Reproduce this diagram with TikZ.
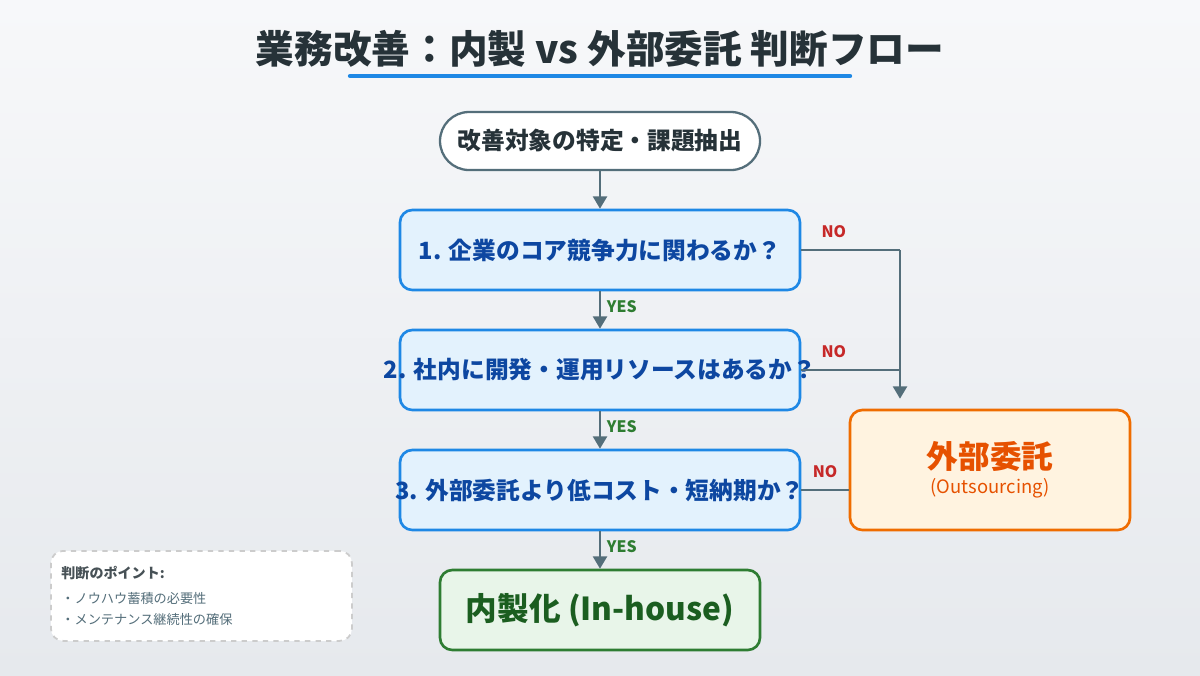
\documentclass[tikz,border=0pt]{standalone}
\usepackage{fontspec}
\setmainfont{Noto Sans CJK JP}
\usetikzlibrary{positioning, arrows.meta}
\definecolor{bgtop}{HTML}{F7F8FA}
\definecolor{bgbot}{HTML}{E6E9ED}
\definecolor{ink}{HTML}{263238}
\definecolor{arrowgray}{HTML}{546E7A}
\definecolor{qfill}{HTML}{E3F2FD}
\definecolor{qline}{HTML}{1E88E5}
\definecolor{qtext}{HTML}{0D47A1}
\definecolor{ofill}{HTML}{FFF3E0}
\definecolor{oline}{HTML}{EF6C00}
\definecolor{otext}{HTML}{E65100}
\definecolor{gfill}{HTML}{E8F5E9}
\definecolor{gline}{HTML}{2E7D32}
\definecolor{gtext}{HTML}{1B5E20}
\definecolor{nored}{HTML}{C62828}
\newcommand{\qtxt}[1]{\makebox[0pt][c]{#1}} % text may run past the box edge
\tikzset{
flow/.style={-{Triangle[length=7pt,width=8pt]}, draw=arrowgray, line width=1.2pt}, % connectors
question/.style={draw=qline, fill=qfill, line width=1.5pt, rounded corners=7pt, minimum width=8cm, minimum height=1.6cm, text=qtext, font=\bfseries\fontsize{13.5}{16}\selectfont},
yes/.style={text=gline, font=\bfseries\fontsize{9}{10}\selectfont},
no/.style={text=nored, font=\bfseries\fontsize{9}{10}\selectfont},
}
\begin{document}
\begin{tikzpicture}
\shade[top color=bgtop, bottom color=bgbot] (0,0) rectangle (24,-13.5);
\useasboundingbox (0,0) rectangle (24,-13.5);
% title
\node[text=ink, font=\bfseries\fontsize{22}{26}\selectfont] (title) at (12,-0.98) {業務改善：内製 vs 外部委託 判断フロー};
\draw[qline, line width=2.5pt, line cap=round] (7,-1.52) -- (17,-1.52);
% nodes
\node[draw=arrowgray, fill=white, line width=1.3pt, rounded corners=0.58cm, minimum width=6.4cm, minimum height=1.16cm, text=ink, font=\bfseries\fontsize{13.5}{16}\selectfont] (start) at (12,-2.82) {改善対象の特定・課題抽出};
\node[question] (q1) at (12,-5.0) {\qtxt{1. 企業のコア競争力に関わるか？}};
\node[question] (q2) at (12,-7.4) {\qtxt{2. 社内に開発・運用リソースはあるか？}};
\node[question] (q3) at (12,-9.8) {\qtxt{3. 外部委託より低コスト・短納期か？}};
\node[draw=gline, fill=gfill, line width=1.5pt, rounded corners=7pt, minimum width=6.4cm, minimum height=1.6cm, text=gtext, font=\bfseries\fontsize{18}{21}\selectfont] (inhouse) at (12,-12.2) {内製化 (In-house)};
\node[draw=oline, fill=ofill, line width=1.5pt, rounded corners=7pt, minimum width=5.6cm, minimum height=2.4cm, align=center] (outsrc) at (19.8,-9.4)
  {{\color{otext}\bfseries\fontsize{18}{21}\selectfont 外部委託}\\[2pt]{\color{otext}\fontsize{10.5}{12}\selectfont (Outsourcing)}};
% connectors
\draw[flow] (start) -- (q1);
\draw[flow] (q1) -- node[yes, right, pos=0.4] {YES} (q2);
\draw[flow] (q2) -- node[yes, right, pos=0.4] {YES} (q3);
\draw[flow] (q3) -- node[yes, right, pos=0.4] {YES} (inhouse);
\coordinate (j1) at (18,-5.0);
\coordinate (j2) at (18,-7.4);
\draw[draw=arrowgray, line width=1.2pt] (q1.east) -- node[no, above, pos=0.33, yshift=3pt] {NO} (j1);
\draw[flow] (j1) -- ([yshift=0.2cm]j1 |- outsrc.north);
\draw[draw=arrowgray, line width=1.2pt] (q2.east) -- node[no, above, pos=0.33, yshift=3pt] {NO} (j2);
\draw[draw=arrowgray, line width=1.2pt] (q3.east) -- node[no, above, pos=0.5, yshift=3pt] {NO} (outsrc.west |- q3.east);
% legend
\node[draw=gray!40, dashed, fill=white, line width=1pt, rounded corners=7pt, minimum width=6cm, minimum height=1.8cm, text width=5.6cm, align=left, inner sep=6pt, anchor=north west] (points) at (1,-11.0)
  {{\color{ink!85}\bfseries\fontsize{8}{10}\selectfont 判断のポイント:}\\[3pt]
   {\color{arrowgray}\fontsize{7.5}{11}\selectfont ・ノウハウ蓄積の必要性\\ ・メンテナンス継続性の確保}};
\end{tikzpicture}
\end{document}
